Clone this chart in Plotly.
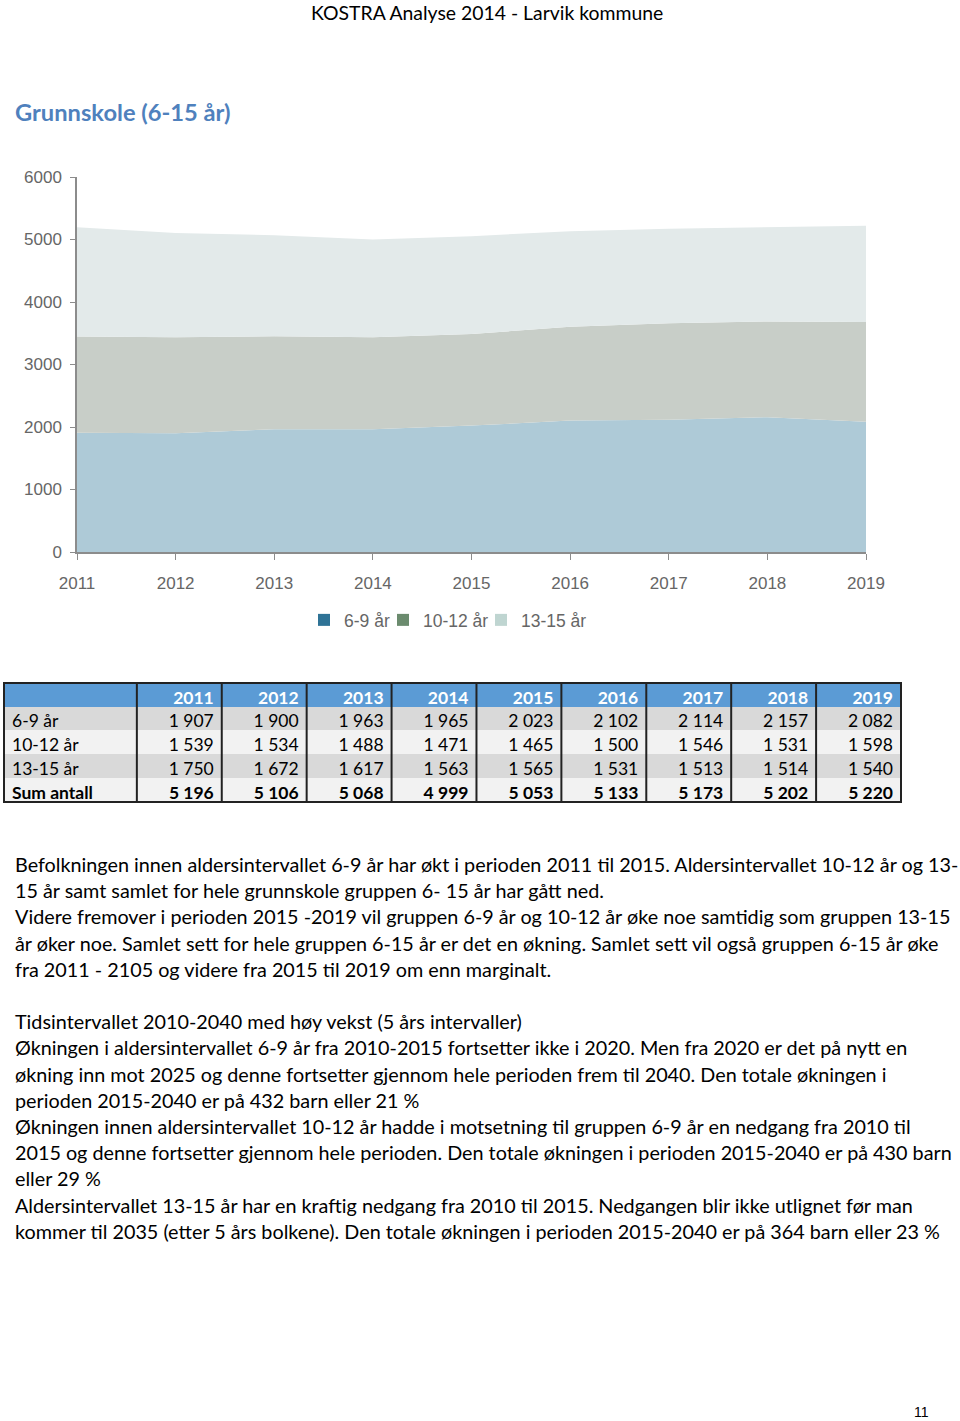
import plotly.graph_objects as go

W, H = 960, 1421

years = [2011, 2012, 2013, 2014, 2015, 2016, 2017, 2018, 2019]
age_6_9 = [1907, 1900, 1963, 1965, 2023, 2102, 2114, 2157, 2082]
age_10_12 = [1539, 1534, 1488, 1471, 1465, 1500, 1546, 1531, 1598]
age_13_15 = [1750, 1672, 1617, 1563, 1565, 1531, 1513, 1514, 1540]
sum_antall = [5196, 5106, 5068, 4999, 5053, 5133, 5173, 5202, 5220]

groups = ["6-9 år", "10-12 år", "13-15 år"]
fill_colors = ["#aecad7", "#c8cec8", "#e3eaea"]
legend_colors = ["#2f7396", "#6b8b6e", "#bfd5d1"]

body_lines = [
    "Befolkningen innen aldersintervallet 6-9 år har økt i perioden 2011 til 2015. Aldersintervallet 10-12 år og 13-",
    "15 år samt samlet for hele grunnskole gruppen 6- 15 år har gått ned.",
    "Videre fremover i perioden 2015 -2019 vil gruppen 6-9 år og 10-12 år øke noe samtidig som gruppen 13-15",
    "år øker noe. Samlet sett for hele gruppen 6-15 år er det en økning. Samlet sett vil også gruppen 6-15 år øke",
    "fra 2011 - 2105 og videre fra 2015 til 2019 om enn marginalt.",
    "",
    "Tidsintervallet 2010-2040 med høy vekst (5 års intervaller)",
    "Økningen i aldersintervallet 6-9 år fra 2010-2015 fortsetter ikke i 2020. Men fra 2020 er det på nytt en",
    "økning inn mot 2025 og denne fortsetter gjennom hele perioden frem til 2040. Den totale økningen i",
    "perioden 2015-2040 er på 432 barn eller 21 %",
    "Økningen innen aldersintervallet 10-12 år hadde i motsetning til gruppen 6-9 år en nedgang fra 2010 til",
    "2015 og denne fortsetter gjennom hele perioden. Den totale økningen i perioden 2015-2040 er på 430 barn",
    "eller 29 %",
    "Aldersintervallet 13-15 år har en kraftig nedgang fra 2010 til 2015. Nedgangen blir ikke utlignet før man",
    "kommer til 2035 (etter 5 års bolkene). Den totale økningen i perioden 2015-2040 er på 364 barn eller 23 %",
]


def px(x):
    return x / W


def py(y):
    return 1 - y / H


def fmt(v):
    return f"{v:,}".replace(",", " ")


fig = go.Figure()

# stacked area chart
for name, vals, fc in zip(groups, [age_6_9, age_10_12, age_13_15], fill_colors):
    fig.add_trace(go.Scatter(
        x=years, y=vals, name=name, stackgroup="one", mode="lines",
        line=dict(width=0), fillcolor=fc, showlegend=False,
    ))

# legend entries with square markers, one legend each so they sit close
legend_names = ["legend", "legend2", "legend3"]
for name, lc, lg in zip(groups, legend_colors, legend_names):
    fig.add_trace(go.Scatter(
        x=[None], y=[None], name=name, mode="markers", legend=lg,
        marker=dict(symbol="square", size=12, color=lc),
    ))

# table: years header + three age rows, then the bold sum row as its own header
text_font = "Lato"
blue = "#5b9bd5"
row_fills = ["#d9d9d9", "#f2f2f2", "#d9d9d9"]
cols = [groups]
for i in range(len(years)):
    cols.append([fmt(age_6_9[i]), fmt(age_10_12[i]), fmt(age_13_15[i])])
ncols = len(cols)
col_w = [133] + [85] * len(years)
aligns = ["left"] + ["right"] * len(years)

fig.add_trace(go.Table(
    domain=dict(x=[px(4), px(901)], y=[py(779), py(683)]),
    columnwidth=col_w,
    header=dict(
        values=[""] + [str(y) for y in years],
        fill_color=blue,
        line=dict(color=blue, width=1),
        font=dict(family=text_font, size=17.5, color="white", weight="bold"),
        align=aligns,
        height=23,
    ),
    cells=dict(
        values=cols,
        fill_color=[row_fills] * ncols,
        line=dict(color=[row_fills] * ncols, width=1),
        font=dict(family=text_font, size=17.5, color="black"),
        align=aligns,
        height=24,
    ),
))

fig.add_trace(go.Table(
    domain=dict(x=[px(4), px(901)], y=[py(803), py(778)]),
    columnwidth=col_w,
    header=dict(
        values=["Sum antall"] + [fmt(v) for v in sum_antall],
        fill_color="#f2f2f2",
        line=dict(color="#f2f2f2", width=1),
        font=dict(family=text_font, size=17.5, color="black", weight="bold"),
        align=aligns,
        height=24,
    ),
    cells=dict(values=[[] for _ in range(ncols)]),
))

shapes = []
# table vertical separators and outer border
total = sum(col_w)
xs = [4]
for w in col_w:
    xs.append(xs[-1] + w * (901 - 4) / total)
for xv in xs[1:-1]:
    shapes.append(dict(type="line", xref="paper", yref="paper",
                       x0=px(xv), x1=px(xv), y0=py(683), y1=py(802),
                       line=dict(color="#222222", width=2)))
shapes.append(dict(type="rect", xref="paper", yref="paper",
                   x0=px(4), x1=px(901), y0=py(683), y1=py(802),
                   line=dict(color="#222222", width=2)))

annotations = [
    dict(text="KOSTRA Analyse 2014 - Larvik kommune", x=px(487), y=py(12),
         xref="paper", yref="paper", xanchor="center", yanchor="middle",
         showarrow=False, font=dict(family=text_font, size=19.4, color="black")),
    dict(text="<b>Grunnskole (6-15 år)</b>", x=px(13), y=py(112),
         xref="paper", yref="paper", xanchor="left", yanchor="middle",
         showarrow=False, font=dict(family=text_font, size=23.7, color="#4f81bd")),
    dict(text="11", x=px(921), y=py(1412),
         xref="paper", yref="paper", xanchor="center", yanchor="middle",
         showarrow=False, font=dict(family="Liberation Sans", size=14, color="black")),
]

y_line = 864
for line in body_lines:
    if line:
        annotations.append(dict(
            text=line, x=px(13), y=py(y_line), xref="paper", yref="paper",
            xanchor="left", yanchor="middle", showarrow=False,
            font=dict(family=text_font, size=19.8, color="black")))
    y_line += 26.2

legend_font = dict(family="Liberation Sans", size=17.5, color="#666666")
legend_x = [304, 383, 481]
legends = {}
for lg, lx in zip(legend_names, legend_x):
    legends[lg] = dict(
        x=px(lx), xanchor="left", y=py(620), yanchor="middle",
        font=legend_font, itemwidth=30, bgcolor="rgba(0,0,0,0)",
    )

fig.update_layout(
    width=W, height=H,
    margin=dict(l=0, r=0, t=0, b=0),
    paper_bgcolor="white", plot_bgcolor="white",
    xaxis=dict(
        domain=[px(77), px(866)], range=[2011, 2019],
        tickvals=years, showgrid=False, zeroline=False, automargin=False,
        showline=True, linecolor="#8c8c8c", linewidth=1.5,
        ticks="outside", ticklen=6, tickcolor="#8c8c8c",
        ticklabelstandoff=9,
        tickfont=dict(family="Liberation Sans", size=17, color="#666666"),
    ),
    yaxis=dict(
        domain=[py(552), py(177)], range=[0, 6000],
        tickvals=[0, 1000, 2000, 3000, 4000, 5000, 6000], tickformat="d",
        showgrid=False, zeroline=False, automargin=False,
        showline=True, linecolor="#8c8c8c", linewidth=1.5,
        ticks="outside", ticklen=5, tickcolor="#8c8c8c",
        ticklabelstandoff=5,
        tickfont=dict(family="Liberation Sans", size=17, color="#666666"),
    ),
    shapes=shapes,
    annotations=annotations,
    **legends,
)

fig.write_html(
    "out.html",
    config={"displayModeBar": False},
    post_script="document.body.style.margin='0';document.body.style.overflow='hidden';",
)
